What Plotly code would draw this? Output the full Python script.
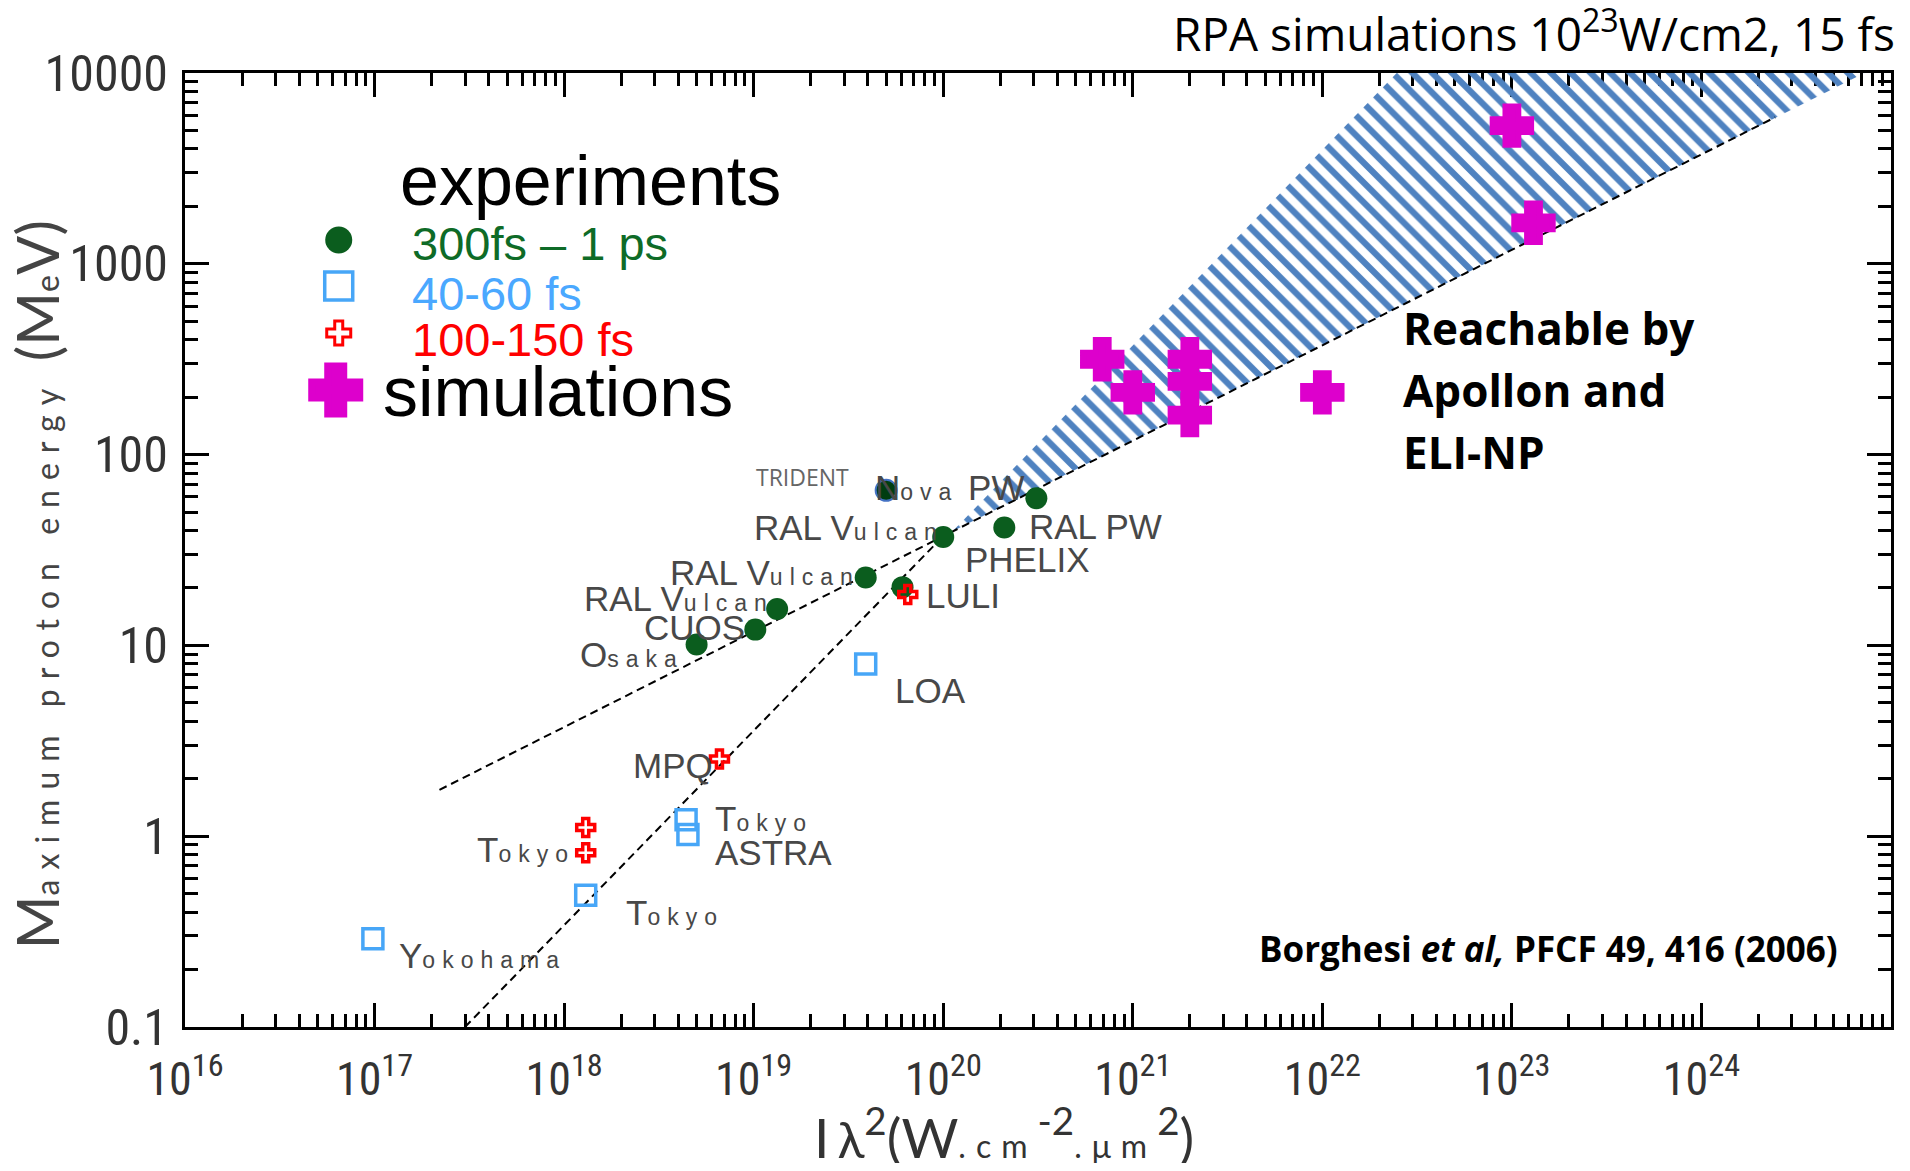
import math
import plotly.graph_objects as go

# ---------------- data ----------------
# 300 fs - 1 ps experiments (dark green)
ps_x = [1.0e20, 2.1e20, 3.1e20, 3.9e19, 6.1e19, 1.33e19, 1.02e19, 5.0e18]
ps_y = [37.0, 41.5, 59.0, 22.7, 20.2, 15.5, 12.1, 10.1]
# Nova PW / TRIDENT point
nova_x = [5.0e19]
nova_y = [65.0]
# 40-60 fs experiments (blue open squares)
fs40_x = [3.9e19, 4.4e18, 4.5e18, 1.3e18, 9.8e16]
fs40_y = [8.0, 1.22, 1.02, 0.49, 0.29]
# 100-150 fs experiments (red crosses)
fs100_x = [6.5e19, 6.6e18, 1.3e18, 1.3e18]
fs100_y = [18.5, 2.54, 1.11, 0.82]
# simulations (magenta crosses)
sim_x = [1.0e23, 1.3e23, 6.9e20, 1.0e21, 2.0e21, 2.0e21, 2.0e21]
sim_y = [5300, 1640, 316, 212, 316, 242, 161]
# marker next to "Reachable by Apollon and ELI-NP"
reach_x = [1.0e22]
reach_y = [212]
# scaling lines (dashed)
fit1_x = [2.2e17, 2.45e24]
fit1_y = [1.75, 5860]
fit2_x = [3.0e17, 1.0e20]
fit2_y = [0.1, 37.4]
# hatched region (RPA simulations band)
band_x = [1.12e20, 2.95e22, 8.7e24, 8.7e24, 1.12e20]
band_y = [39.6, 12000, 12000, 10960, 39.6]

# point labels: (text, x, y)
SM = "<span style='font-size:23px;letter-spacing:7px'>"
labels = [
    ("N" + SM + "ova</span> PW", 4.24e19, 67.5),
    ("RAL V" + SM + "ulcan</span>", 9.8e18, 41.5),
    ("PHELIX", 1.27e20, 28.3),
    ("RAL PW", 2.78e20, 42.2),
    ("RAL V" + SM + "ulcan</span>", 3.52e18, 24.1),
    ("LULI", 7.9e19, 18.2),
    ("RAL V" + SM + "ulcan</span>", 1.25e18, 17.7),
    ("CUOS", 2.58e18, 12.4),
    ("O" + SM + "saka</span>", 1.19e18, 9.0),
    ("LOA", 5.45e19, 5.78),
    ("MPQ", 2.26e18, 2.36),
    ("T" + SM + "okyo</span>", 6.1e18, 1.24),
    ("ASTRA", 6.1e18, 0.82),
    ("T" + SM + "okyo</span>", 3.4e17, 0.855),
    ("T" + SM + "okyo</span>", 2.07e18, 0.398),
    ("Y" + SM + "okohama</span>", 1.32e17, 0.238),
]

x_tickvals = [10.0 ** k for k in range(16, 25)]
x_ticktext = ["10<sup>%d</sup>" % k for k in range(16, 25)]
y_tickvals = [0.1, 1, 10, 100, 1000, 10000]
y_ticktext = ["0.1", "1", "10", "100", "1000", "10000"]

# ---------------- layout constants ----------------
OFF = 8                      # default body margin of the html page
W, H = 1910 - 2 * OFF, 1171 - 2 * OFF
PL, PR, PT, PB = 185, 1894, 73, 1027      # plot box in page pixels
ML, MT = PL - OFF, PT - OFF
MR, MB = W - (PR - OFF), H - (PB - OFF)
XR = (16, 25)
YR = (-1, 4)


def px(x):
    return (x - PL) / (PR - PL)


def py(y):
    return 1 - (y - PT) / (PB - PT)


def dx(x):   # page pixel -> x data value (for legend swatches)
    return 10 ** (XR[0] + px(x) * (XR[1] - XR[0]))


def dy(y):
    return 10 ** (YR[0] + py(y) * (YR[1] - YR[0]))


NARROW = "Liberation Sans Narrow, Roboto Condensed, Liberation Sans, sans-serif"
ARIAL = "Liberation Sans, Arial, sans-serif"
GREEN = "#0b5d1e"
BLUE = "#47a6f7"
RED = "#ff0000"
MAG = "#dd00cc"

fig = go.Figure()

fig.add_trace(go.Scatter(
    x=band_x, y=band_y, mode="lines", fill="toself",
    line=dict(width=0, color="rgba(0,0,0,0)"),
    fillcolor="rgba(0,0,0,0)",
    fillpattern=dict(shape="\\", fgcolor="#4f82c0", bgcolor="rgba(255,255,255,0)",
                     size=14, solidity=0.45, fillmode="replace"),
    hoverinfo="skip", showlegend=False))

for fx, fy in ((fit1_x, fit1_y), (fit2_x, fit2_y)):
    fig.add_trace(go.Scatter(x=fx, y=fy, mode="lines",
                             line=dict(color="black", width=2, dash="8px,5px"),
                             showlegend=False))

fig.add_trace(go.Scatter(x=ps_x, y=ps_y, mode="markers",
                         marker=dict(symbol="circle", size=22, color=GREEN, opacity=1),
                         showlegend=False))
fig.add_trace(go.Scatter(x=nova_x, y=nova_y, mode="markers",
                         marker=dict(symbol="circle", size=21, color="#003d10", opacity=1,
                                     line=dict(color="#4472c4", width=2)),
                         showlegend=False))
fig.add_trace(go.Scatter(x=fs40_x, y=fs40_y, mode="markers",
                         marker=dict(symbol="square-open", size=20, color=BLUE, opacity=1,
                                     line=dict(color=BLUE, width=3.5)),
                         showlegend=False))
fig.add_trace(go.Scatter(x=fs100_x, y=fs100_y, mode="markers",
                         marker=dict(symbol="cross-open", size=15, color=RED, opacity=1,
                                     line=dict(color=RED, width=3.5)),
                         showlegend=False))
fig.add_trace(go.Scatter(x=sim_x + reach_x, y=sim_y + reach_y, mode="markers",
                         marker=dict(symbol="cross", size=32, color=MAG, opacity=1,
                                     line=dict(color=MAG, width=6)),
                         showlegend=False))

# legend swatches (positions given in page pixels, converted through the axes)
sw_pix = [(339, 240), (339, 286), (339, 333), (336, 390)]
sw_sym = ["circle", "square-open", "cross-open", "cross"]
sw_col = [GREEN, BLUE, RED, MAG]
sw_size = [27, 28, 20, 40]
sw_lw = [0, 3.5, 3, 7]
fig.add_trace(go.Scatter(x=[dx(a) for a, b in sw_pix], y=[dy(b) for a, b in sw_pix],
                         mode="markers", cliponaxis=False,
                         marker=dict(symbol=sw_sym, color=sw_col, size=sw_size, opacity=1,
                                     line=dict(color=sw_col, width=sw_lw)),
                         showlegend=False))

ann = []
for t, lx, ly in labels:
    ann.append(dict(x=math.log10(lx), y=math.log10(ly), xref="x", yref="y",
                    text=t, showarrow=False, xanchor="left", yanchor="middle",
                    font=dict(family=ARIAL, size=35, color="#484848")))
ann.append(dict(x=math.log10(1.0e19), y=math.log10(75.9), xref="x", yref="y",
                text="TRIDENT", showarrow=False, xanchor="left", yanchor="middle",
                font=dict(family="Open Sans", size=23, color="#666666")))

# legend texts
leg = [
    ("experiments", 398, 181, 70, "black"),
    ("300fs \u2013 1 ps", 410, 244, 47, "#0e6b27"),
    ("40-60 fs", 410, 293, 47, "#4aa8ff"),
    ("100-150 fs", 410, 339, 47, RED),
    ("simulations", 381, 392, 70, "black"),
]
for t, x0, y0, s, c in leg:
    ann.append(dict(x=px(x0), y=py(y0), xref="paper", yref="paper", text=t,
                    showarrow=False, xanchor="left", yanchor="middle",
                    font=dict(family=ARIAL, size=s, color=c)))

# right-side texts
for i, t in enumerate(["Reachable by", "Apollon and", "ELI-NP"]):
    ann.append(dict(x=px(1403), y=py(328 + 62 * i), xref="paper", yref="paper",
                    text="<b>%s</b>" % t, showarrow=False, xanchor="left", yanchor="middle",
                    font=dict(family="Open Sans", size=44, color="black")))
ann.append(dict(x=px(1843), y=py(948), xref="paper", yref="paper",
                text="<b>Borghesi <i>et al,</i> PFCF 49, 416 (2006)</b>", showarrow=False,
                xanchor="right", yanchor="middle",
                font=dict(family="Open Sans", size=35, color="black")))
ann.append(dict(x=px(1900), y=py(31), xref="paper", yref="paper",
                text="RPA simulations 10<sup>23</sup>W/cm2, 15 fs", showarrow=False,
                xanchor="right", yanchor="middle",
                font=dict(family="Open Sans", size=46, color="black")))

# axis titles
ann.append(dict(x=px(36), y=py(585), xref="paper", yref="paper", textangle=-90,
                text="M<span style='font-size:32px;letter-spacing:10px'>aximum proton energy </span>"
                     "(M<span style='font-size:32px'>e</span>V)",
                showarrow=False, xanchor="center", yanchor="middle",
                font=dict(family="Lato", size=58, color="#444444")))
ann.append(dict(x=px(1005), y=py(1133), xref="paper", yref="paper",
                text="<span style='letter-spacing:8px'>I</span>"
                     "<span style='font-size:50px'>\u03bb</span><sup>2</sup>(W"
                     "<span style='font-size:32px;letter-spacing:10px'>.cm</span><sup>-2</sup>"
                     "<span style='font-size:32px;letter-spacing:10px'>.\u03bcm</span><sup>2</sup>)",
                showarrow=False, xanchor="center", yanchor="middle",
                font=dict(family="Lato", size=55, color="#333333")))

axis_common = dict(type="log", showline=True, linewidth=3, linecolor="black",
                   mirror="ticks", ticks="inside", ticklen=24, tickwidth=3,
                   tickcolor="black", showgrid=False, zeroline=False,
                   layer="below traces",
                   minor=dict(ticks="inside", ticklen=13, tickwidth=2.5,
                              tickcolor="black", dtick="D1", showgrid=False))

fig.update_layout(
    width=W, height=H,
    margin=dict(l=ML, r=MR, t=MT, b=MB),
    paper_bgcolor="white", plot_bgcolor="white",
    showlegend=False,
    xaxis=dict(axis_common, range=list(XR), tickmode="array", tickvals=x_tickvals,
               ticktext=x_ticktext, ticklabelstandoff=10,
               tickfont=dict(family=NARROW, size=46, color="#333333")),
    yaxis=dict(axis_common, range=list(YR), tickmode="array", tickvals=y_tickvals,
               ticktext=y_ticktext, ticklabelstandoff=4,
               tickfont=dict(family=NARROW, size=50, color="#333333")),
    annotations=ann,
)

fig.write_html("out.html")
